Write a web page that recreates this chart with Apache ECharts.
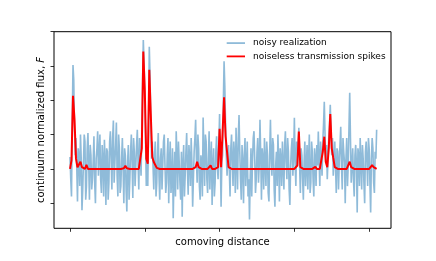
<!DOCTYPE html>
<html>
<head>
<meta charset="utf-8">
<script src="https://cdn.jsdelivr.net/npm/echarts@6/dist/echarts.min.js"></script>
<style>html,body{margin:0;padding:0;background:#fff;}#c{width:436px;height:261px;}</style>
</head>
<body>
<div id="c"></div>
<script>
// comoving-distance bins: noiseless values on bins 0..205, noisy values on half-bins 0..205
const xTicks = [0, 50, 100, 150, 200];
const yTicks = [-1, 0, 1, 2, 3, 4];
const seriesNames = ['noisy realization', 'noiseless transmission spikes'];

// noisy realization values, one per half bin
const noisy = [
  0.35, -0.3, -0.8, 1.4, 3.03, 2.6, 1.2, 0.4, 0.9, 0.1,
  -0.95, 0.6, 0.4, -0.5, 1.0, 0.3, -1.2, -0.6, 0.2, 1.0,
  0.8, -0.9, -0.5, 0.6, 1.05, 0.1, -0.9, 0.7, 0.4, -0.6,
  -0.3, 0.2, 0.95, -0.4, -1.0, 0.3, 0.6, 1.1, -0.2, 0.5,
  1.0, -0.3, -0.7, 0.7, 0.3, -0.8, 0.85, 0.2, -1.05, 0.6,
  0.5, -0.9, -0.4, 0.8, 1.1, 0.3, -0.6, 0.9, 1.41, -0.4,
  0.2, 0.7, 1.35, -0.2, -0.8, 1.0, 0.6, -0.7, -0.5, 0.3,
  0.9, 0.0, -1.0, 0.6, 0.4, -0.6, -1.24, 0.2, 0.7, -0.9,
  -0.3, 0.5, 1.0, 0.2, -0.85, 0.9, 0.5, -0.5, 0.1, 0.7,
  1.14, 0.2, -0.6, 0.9, 0.3, -0.2, 1.2, 2.4, 3.76, 3.1,
  2.0, 0.9, -0.5, 0.2, -0.5, 1.1, 3.56, 2.7, 1.4, 0.3,
  0.8, 0.1, -0.6, 0.4, 0.8, -0.8, -0.4, 0.5, 1.05, -0.2,
  -0.9, 0.3, 0.6, -0.6, 0.1, 0.8, 1.0, 0.1, -0.7, -0.4,
  0.4, 0.9, -1.0, 0.2, 0.8, -0.7, -0.3, 0.6, -1.44, -0.2,
  0.5, -0.8, 1.1, 0.4, -0.6, 0.8, 0.2, -0.4, -0.9, 0.5,
  -1.39, 0.1, 0.7, -0.8, -0.2, 0.5, 1.05, 0.0, -0.75, 0.7,
  0.3, -0.5, 0.9, 0.2, -1.1, -0.3, 0.5, 0.9, 1.43, 0.3,
  -0.4, 1.0, 0.6, -0.5, -0.9, 0.4, 0.2, -0.8, 1.5, 0.4,
  -0.5, 1.0, 0.8, -0.3, -0.7, 0.3, 1.1, -0.6, 0.2, 0.8,
  -1.05, 0.1, 0.6, -0.8, -0.4, 0.5, 0.95, 0.1, -0.3, 0.7,
  1.6, 0.3, -1.1, 0.2, 0.4, 1.9, 3.14, 2.4, 1.3, 0.4,
  -0.2, 0.3, 0.7, 0.0, -0.8, 0.6, 1.0, 0.2, -0.5, 0.8,
  0.4, -0.7, 1.2, 0.3, -0.6, 0.9, 1.57, 0.5, -0.3, -0.9,
  0.7, 0.2, -1.0, 0.4, 0.9, -0.5, 0.1, 0.8, -0.8, -0.3,
  -1.47, -0.2, 0.6, -0.8, 0.2, 0.9, 1.1, 0.3, -0.7, -0.3,
  0.5, 0.9, -0.4, 0.1, 1.43, 0.4, -0.9, 0.6, 0.3, -0.6,
  0.9, 0.2, -0.5, 0.8, 0.4, -0.7, -0.95, 0.5, 1.43, 0.3,
  -0.2, 0.9, 0.7, -0.6, -1.1, 0.1, 0.5, -0.5, 1.0, 0.2,
  -0.95, 0.6, 0.3, -0.5, 0.8, 0.1, -0.6, 0.7, 1.1, 0.2,
  -0.3, 0.9, 0.5, -0.6, -1.05, 0.1, 0.6, 0.9, -0.2, 0.4,
  1.49, 0.2, -0.5, 0.8, 0.3, 0.7, 1.2, 0.1, -0.7, 0.6,
  0.4, -0.3, -0.9, 0.2, 0.8, -0.5, 0.1, 0.7, -0.6, 0.3,
  1.0, -0.7, -0.4, 0.8, 0.5, -0.3, -0.8, 0.6, 0.3, -0.5,
  0.7, 0.1, 1.09, 0.3, -0.5, 0.8, 0.4, -0.2, 0.8, 1.3,
  1.96, 1.0, 0.2, 0.7, -0.3, 0.3, 0.9, 1.3, 1.87, 1.1,
  0.4, 0.9, -0.2, 0.3, 0.8, 0.1, -0.7, 0.6, 0.5, -0.6,
  0.2, 0.7, 1.23, 0.1, -0.6, 0.9, 0.5, 0.2, -1.0, 0.3,
  0.9, -0.5, 0.1, 1.2, 2.22, 0.9, -0.4, 0.1, 0.6, -0.3,
  -0.8, 0.4, 0.7, 0.1, -1.27, 0.6, 0.4, -0.5, 0.9, 0.2,
  -0.6, 0.7, 0.3, -0.4, -1.0, 0.5, 0.8, 0.2, -0.5, 0.9,
  0.6, -0.4, -1.27, 0.3, 0.9, 0.6, -0.4, -0.7, 0.5, 0.3,
  1.14
];

// noiseless transmission spikes, one per bin
const noiseless = [
  0, 0.25, 2.13, 1.45, 0.3, 0.05, 0.05, 0.21, 0.05, 0,
  0, 0.12, 0, 0, 0, 0, 0, 0, 0, 0,
  0, 0, 0, 0, 0, 0, 0, 0, 0, 0,
  0, 0, 0, 0, 0, 0, 0.02, 0.09, 0.02, 0,
  0, 0, 0, 0, 0, 0, 0, 0.05, 0.6, 3.42,
  2.3, 0.3, 0.15, 2.89, 1.6, 0.35, 0.2, 0.15, 0.03, 0,
  0, 0, 0, 0, 0, 0, 0, 0, 0, 0,
  0, 0, 0, 0, 0, 0, 0, 0, 0, 0,
  0, 0, 0, 0, 0.05, 0.21, 0.05, 0, 0, 0,
  0, 0, 0, 0, 0.1, 0, 0, 0, 0, 0.05,
  1.17, 0.05, 0.1, 2.09, 0.95, 0.5, 0.05, 0, 0, 0,
  0, 0, 0, 0, 0, 0, 0, 0, 0, 0,
  0, 0, 0, 0, 0, 0, 0, 0, 0, 0,
  0, 0, 0, 0, 0, 0, 0, 0, 0, 0,
  0, 0, 0, 0, 0, 0, 0, 0, 0, 0,
  0, 0, 0.1, 1.09, 0.05, 0, 0, 0, 0, 0,
  0, 0, 0, 0, 0.06, 0, 0, 0, 0, 0.5,
  0.94, 0.2, 0.05, 0.6, 1.6, 0.6, 0.32, 0.05, 0, 0,
  0, 0, 0, 0, 0, 0, 0.05, 0.21, 0.05, 0,
  0, 0, 0, 0, 0, 0, 0, 0, 0, 0,
  0, 0.05, 0.11, 0.05, 0, 0
];

const FONT = 'DejaVu Sans';
const noisyData = noisy.map((v, j) => [j / 2, v]);
const noiselessData = noiseless.map((v, i) => [i, v]);

const chart = echarts.init(document.getElementById('c'), null, {renderer: 'canvas'});
chart.setOption({
  animation: false,
  backgroundColor: '#fff',
  grid: {left: 54, right: 45, top: 31.7, bottom: 32.7, show: true, borderColor: '#000', borderWidth: 1, backgroundColor: 'transparent'},
  legend: {
    data: seriesNames,
    orient: 'vertical',
    left: 226.7,
    top: 38.6,
    padding: 0,
    itemWidth: 18.3,
    itemHeight: 1.8,
    itemGap: 4.3,
    icon: 'rect',
    textStyle: {fontFamily: FONT, fontSize: 9, color: '#000', lineHeight: 9, padding: [0, 0, 0, 3]}
  },
  xAxis: {
    type: 'value', min: -10.7, max: 214.6,
    name: 'comoving distance', nameLocation: 'middle', nameGap: 9,
    nameTextStyle: {fontFamily: FONT, fontSize: 10, color: '#000'},
    axisLine: {show: false, onZero: false},
    axisTick: {show: true, customValues: xTicks, length: 3.5, lineStyle: {color: '#000', width: 0.8}},
    axisLabel: {show: false, customValues: xTicks},
    splitLine: {show: false}
  },
  yAxis: {
    type: 'value', min: -1.73, max: 4.0,
    name: 'continuum normalized flux, {i|F}', nameLocation: 'middle', nameGap: 8,
    nameTextStyle: {fontFamily: FONT, fontSize: 10, color: '#000', rich: {i: {fontFamily: FONT, fontSize: 10, fontStyle: 'italic', color: '#000'}}},
    axisLine: {show: false, onZero: false},
    axisTick: {show: true, customValues: yTicks, length: 3.5, lineStyle: {color: '#000', width: 0.8}},
    axisLabel: {show: false, customValues: yTicks},
    splitLine: {show: false}
  },
  series: [
    {
      name: seriesNames[0], type: 'line', data: noisyData,
      showSymbol: false, symbol: 'none', color: 'rgba(31,119,180,0.5)',
      lineStyle: {color: 'rgba(31,119,180,0.5)', width: 1.6}, z: 2
    },
    {
      name: seriesNames[1], type: 'line', data: noiselessData,
      showSymbol: false, symbol: 'none', color: '#ff0000',
      lineStyle: {color: '#ff0000', width: 2}, z: 3
    }
  ]
});
</script>
</body>
</html>
